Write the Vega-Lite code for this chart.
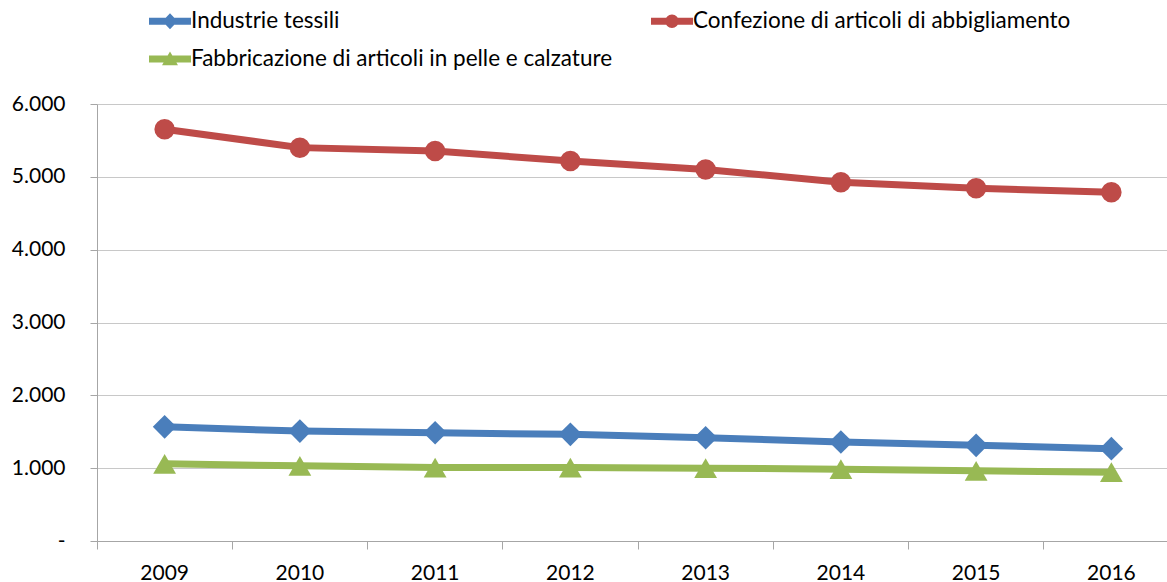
{
  "$schema": "https://vega.github.io/schema/vega-lite/v6.json",
  "width": 1082,
  "height": 437,
  "autosize": {"type": "none"},
  "padding": {"left": 97, "top": 104, "right": 0, "bottom": 45},
  "background": "white",
  "config": {
    "view": {"stroke": null},
    "font": "Lato",
    "axis": {"labelFont": "Lato", "labelFontSize": 21, "labelColor": "#000000", "domainColor": "#A6A6A6", "tickColor": "#A6A6A6", "gridColor": "#C8C8C8", "title": null}
  },
  "data": {
    "values": [
      {"year": "2009", "series": "Industrie tessili", "value": 1568},
      {"year": "2010", "series": "Industrie tessili", "value": 1509},
      {"year": "2011", "series": "Industrie tessili", "value": 1486},
      {"year": "2012", "series": "Industrie tessili", "value": 1464},
      {"year": "2013", "series": "Industrie tessili", "value": 1418},
      {"year": "2014", "series": "Industrie tessili", "value": 1359},
      {"year": "2015", "series": "Industrie tessili", "value": 1314},
      {"year": "2016", "series": "Industrie tessili", "value": 1268},
      {"year": "2009", "series": "Confezione di articoli di abbigliamento", "value": 5654},
      {"year": "2010", "series": "Confezione di articoli di abbigliamento", "value": 5401},
      {"year": "2011", "series": "Confezione di articoli di abbigliamento", "value": 5355},
      {"year": "2012", "series": "Confezione di articoli di abbigliamento", "value": 5217},
      {"year": "2013", "series": "Confezione di articoli di abbigliamento", "value": 5101},
      {"year": "2014", "series": "Confezione di articoli di abbigliamento", "value": 4926},
      {"year": "2015", "series": "Confezione di articoli di abbigliamento", "value": 4843},
      {"year": "2016", "series": "Confezione di articoli di abbigliamento", "value": 4788},
      {"year": "2009", "series": "Fabbricazione di articoli in pelle e calzature", "value": 1059},
      {"year": "2010", "series": "Fabbricazione di articoli in pelle e calzature", "value": 1032},
      {"year": "2011", "series": "Fabbricazione di articoli in pelle e calzature", "value": 1009},
      {"year": "2012", "series": "Fabbricazione di articoli in pelle e calzature", "value": 1009},
      {"year": "2013", "series": "Fabbricazione di articoli in pelle e calzature", "value": 1000},
      {"year": "2014", "series": "Fabbricazione di articoli in pelle e calzature", "value": 986},
      {"year": "2015", "series": "Fabbricazione di articoli in pelle e calzature", "value": 964},
      {"year": "2016", "series": "Fabbricazione di articoli in pelle e calzature", "value": 945}
    ]
  },
  "encoding": {
    "x": {
      "field": "year", "type": "ordinal",
      "scale": {"type": "band", "paddingInner": 0, "paddingOuter": 0},
      "axis": {"labelAngle": 0, "bandPosition": 0, "tickSize": 8, "labelPadding": 13, "grid": false, "labelBound": false, "labelOverlap": false}
    },
    "y": {
      "field": "value", "type": "quantitative",
      "scale": {"domain": [0, 6000], "nice": false},
      "axis": {"values": [0, 1000, 2000, 3000, 4000, 5000, 6000], "grid": true, "tickSize": 7, "labelPadding": 25,
        "labelExpr": "datum.value == 0 ? '-' : replace(format(datum.value, ','), ',', '.')"}
    },
    "color": {
      "field": "series", "type": "nominal",
      "scale": {
        "domain": ["Industrie tessili", "Confezione di articoli di abbigliamento", "Fabbricazione di articoli in pelle e calzature"],
        "range": ["#4A7EBB", "#BE4B48", "#98B954"]
      },
      "legend": {
        "orient": "none", "legendX": 52, "legendY": -104, "direction": "horizontal", "columns": 2,
        "columnPadding": 38, "rowPadding": -3, "title": null,
        "labelFont": "Lato", "labelFontSize": 22.5, "labelColor": "#000000", "labelLimit": 600, "labelOffset": 0,
        "symbolSize": 1764,
        "encode": {
          "symbols": {
            "update": {
              "shape": {"signal": "datum.value == 'Industrie tessili' ? 'M-1,-0.17H1V0.17H-1Z M0,-0.38L0.36,0L0,0.38L-0.36,0Z' : datum.value == 'Confezione di articoli di abbigliamento' ? 'M-1,-0.17H1V0.17H-1Z M0.32,0A0.32,0.32 0 1,1 -0.32,0A0.32,0.32 0 1,1 0.32,0Z' : 'M-1,-0.17H1V0.17H-1Z M0,-0.36L0.38,0.3H-0.38Z'"},
              "fill": {"signal": "scale('color', datum.value)"},
              "stroke": {"value": "transparent"},
              "strokeWidth": {"value": 0},
              "opacity": {"value": 1},
              "fillOpacity": {"value": 1}
            }
          },
          "entries": {"update": {}}
        },
        "rowPadding": 5
      }
    }
  },
  "layer": [
    {"mark": {"type": "line", "strokeWidth": 7}},
    {
      "transform": [{"filter": "datum.series == 'Industrie tessili'"}],
      "mark": {"type": "point", "shape": "diamond", "filled": true, "opacity": 1, "size": 560}
    },
    {
      "transform": [{"filter": "datum.series == 'Confezione di articoli di abbigliamento'"}],
      "mark": {"type": "point", "shape": "circle", "filled": true, "opacity": 1, "size": 420}
    },
    {
      "transform": [{"filter": "datum.series == 'Fabbricazione di articoli in pelle e calzature'"}],
      "mark": {"type": "point", "shape": "triangle-up", "filled": true, "opacity": 1, "size": 520}
    }
  ]
}
